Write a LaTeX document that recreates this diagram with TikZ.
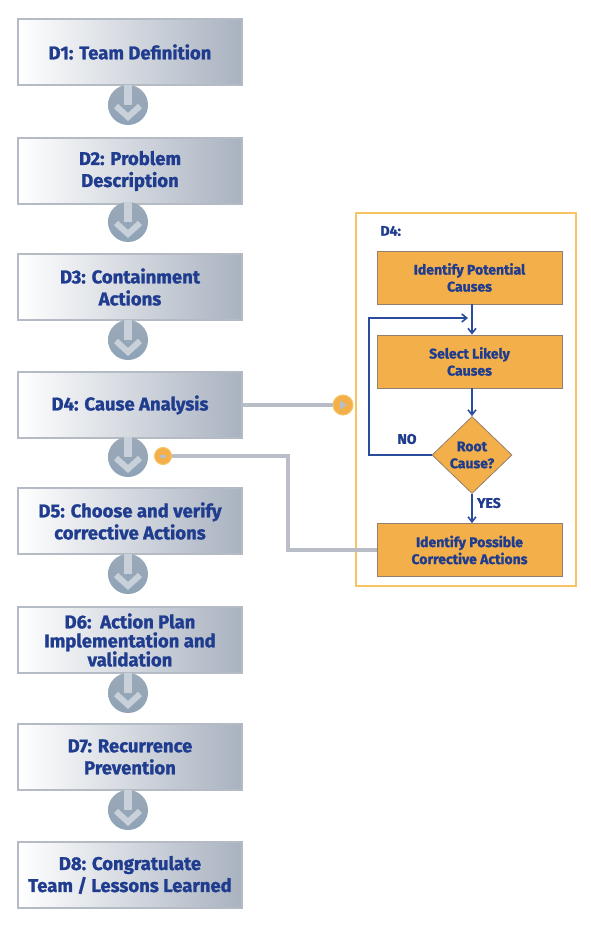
\documentclass[tikz,border=0pt]{standalone}
\usepackage{fontspec}
\usetikzlibrary{shapes.geometric,arrows.meta}
\newfontfamily\labfont{Fira Sans}[BoldFeatures={FakeBold=1.2}]
\definecolor{txtblue}{HTML}{1F3C8E}
\definecolor{boxgray}{HTML}{A9B2C0}
\definecolor{boxedge}{HTML}{B5BBC5}
\definecolor{circgray}{HTML}{8294A6}
\definecolor{arrowlight}{HTML}{C8D0D9}
\definecolor{orangefill}{HTML}{F3B04A}
\definecolor{orangeedge}{HTML}{F6C462}
\definecolor{linkgray}{HTML}{B8BDC8}
\definecolor{loopblue}{HTML}{2B4C9C}
\begin{document}
\begin{tikzpicture}[x=1pt,y=-1pt,
  stepbox/.style={draw=boxedge,line width=1.2pt,left color=white,right color=boxgray,
    minimum width=224pt,minimum height=66pt,inner sep=2pt,align=center,
    font=\labfont\bfseries\fontsize{18.5}{22}\selectfont,text=txtblue},
  obox/.style={draw=gray!70!brown,line width=0.8pt,fill=orangefill,minimum width=185pt,
    minimum height=53pt,align=center,font=\labfont\bfseries\fontsize{14}{17}\selectfont,text=txtblue},
  odia/.style={diamond,draw=gray!70!brown,line width=0.8pt,fill=orangefill,minimum width=80pt,
    minimum height=77pt,inner sep=0pt,align=center,aspect=1.03,
    font=\labfont\bfseries\fontsize{14}{17}\selectfont,text=txtblue},
  dcirc/.style={circle,minimum size=40pt,inner sep=0pt,top color=circgray!80,bottom color=circgray!110!black},
  link/.style={draw=linkgray,line width=4.5pt},
  loop/.style={draw=loopblue,line width=1.6pt,-{Straight Barb[length=5pt,width=8pt]}},
  lbl/.style={font=\labfont\bfseries\fontsize{14}{16}\selectfont,text=txtblue}
]
\useasboundingbox (0,0) rectangle (590,928);
\fill[white] (0,0) rectangle (590,928);

% main steps
\node[stepbox] (d1) at (130,52) {D1: Team Definition};
\node[stepbox] (d2) at (130,171) {D2: Problem\\Description};
\node[stepbox] (d3) at (130,287) {D3: Containment\\Actions};
\node[stepbox] (d4) at (130,405) {D4: Cause Analysis};
\node[stepbox] (d5) at (130,521) {D5: Choose and verify\\corrective Actions};
\node[stepbox] (d6) at (130,640) {D6:\ \ Action Plan\\[-3pt]Implementation and\\[-3pt]validation};
\node[stepbox] (d7) at (130,757) {D7: Recurrence\\Prevention};
\node[stepbox] (d8) at (130,875) {D8: Congratulate\\Team / Lessons Learned};

% down arrow circles
\foreach \n/\y in {c1/105,c2/222,c3/340,c4/457,c5/574,c6/693,c7/810}{
  \node[dcirc] (\n) at (128,\y) {};
  \draw[arrowlight,line width=8pt] (\n.north) -- (\n.center);
  \draw[arrowlight,line width=6pt,line join=miter] ([xshift=-12pt,yshift=-1pt]\n.center) -- ([yshift=-12pt]\n.center) -- ([xshift=12pt,yshift=-1pt]\n.center);
}

% D4 panel
\node[draw=orangeedge,line width=1.5pt,minimum width=220pt,minimum height=373pt,inner sep=0pt] (panel) at (466,399.5) {};
\node[lbl,anchor=west] (ptitle) at (377,231) {D4:};
\node[obox] (b1) at (469.5,277.5) {Identify Potential\\Causes};
\node[obox] (b2) at (469.5,361.5) {Select Likely\\Causes};
\node[odia] (rc) at (472,455) {Root\\Cause?};
\node[obox] (b4) at (469.5,550) {Identify Possible\\Corrective Actions};

\coordinate (j1) at (472,318);
\coordinate (lp1) at (369,455);
\coordinate (lp2) at (369,318);
\draw[loop] (b1.south -| j1) -- (b2.north -| j1);
\draw[loop] (b2.south -| rc.north) -- (rc.north);
\draw[loop] (rc.south) -- (b4.north -| rc.south);
\draw[loop] (rc.west) -- (lp1) -- (lp2) -- ([xshift=-4pt]j1);
\node[lbl] (no) at (407,439) {NO};
\node[lbl] (yes) at (489,503) {YES};

% gray links with orange dots
\node[circle,fill=orangefill,draw=orangeedge,line width=1pt,minimum size=20pt,inner sep=0pt] (o1) at (343,405) {};
\node[circle,fill=orangefill,draw=orangeedge,line width=1pt,minimum size=17pt,inner sep=0pt] (o2) at (163,456) {};
\draw[link] (d4.east) -- (o1.west);
\fill[linkgray] ([xshift=-3pt,yshift=-4.5pt]o1.center) -- ([xshift=4pt]o1.center) -- ([xshift=-3pt,yshift=4.5pt]o1.center) -- cycle;
\coordinate (k1) at (288,456);
\coordinate (k2) at (288,550);
\draw[link,line join=miter] (o2.east) -- (k1) -- (k2) -- (b4.west);
\draw[linkgray,line width=3pt] ([xshift=-3pt]o2.center) -- ([xshift=3pt]o2.center);
\end{tikzpicture}
\end{document}
